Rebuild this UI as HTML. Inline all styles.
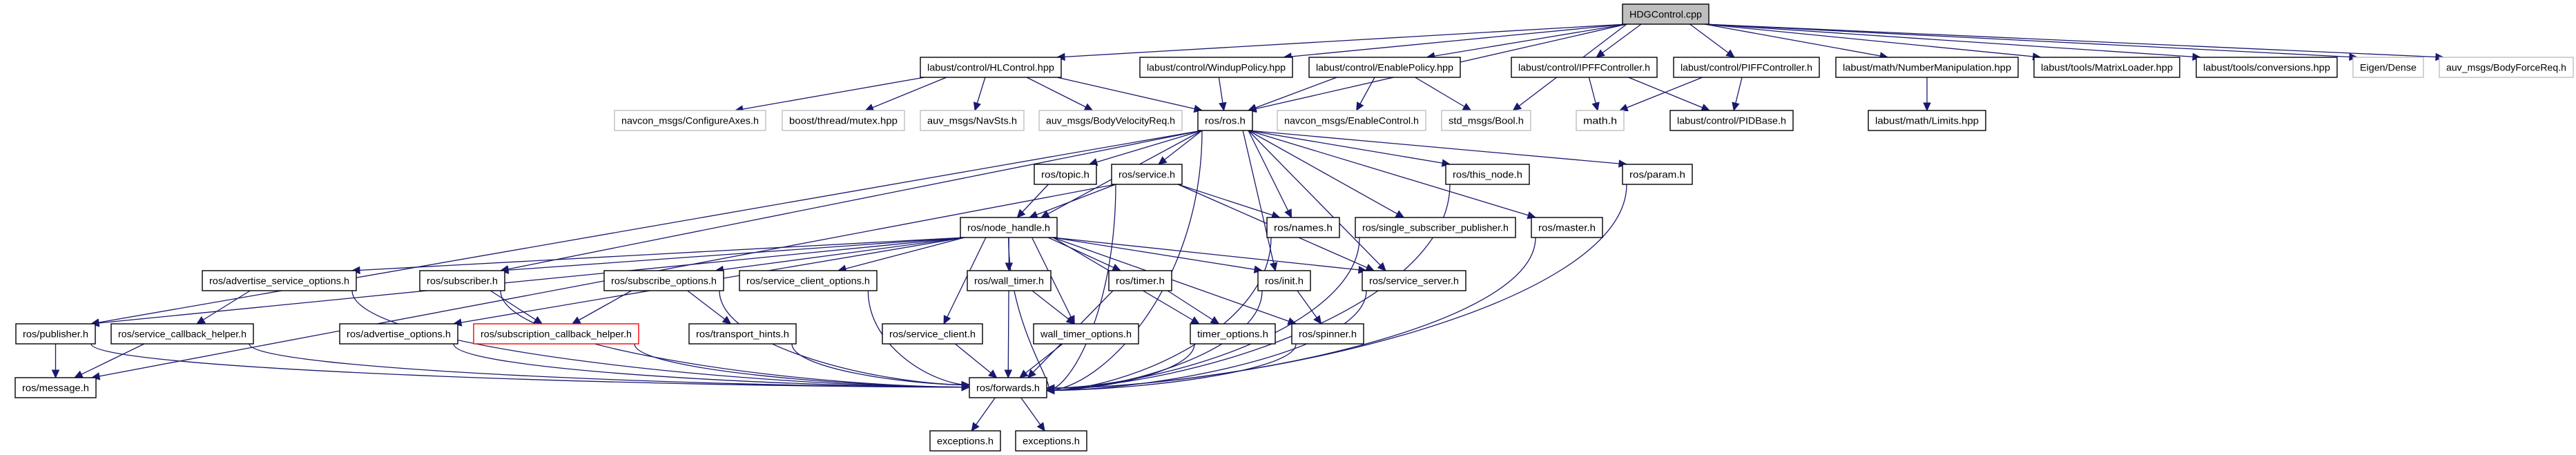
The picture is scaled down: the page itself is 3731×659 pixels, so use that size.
<!DOCTYPE html>
<html><head><meta charset="utf-8"><style>
html,body{margin:0;padding:0;background:#fff;}
svg{display:block}
text{font-family:"Liberation Sans",sans-serif;font-size:14px;fill:#000;}
</style></head><body>
<svg id="s" width="3731" height="659" viewBox="0 0 3731 659" xmlns="http://www.w3.org/2000/svg">
<g id="edges" fill="none" stroke="#191970" stroke-width="1.3"></g>
<g id="heads" fill="#191970" stroke="#191970"></g>
<g id="nodes"></g>
</svg>
<div style="display:none" id="labels">
<span data-n="hdg,2350,2475,6,k">HDGControl.cpp</span>
<span data-n="hl,1333,1537,83,b">labust/control/HLControl.hpp</span>
<span data-n="wp,1651,1872,83,b">labust/control/WindupPolicy.hpp</span>
<span data-n="ep,1896,2115,83,b">labust/control/EnablePolicy.hpp</span>
<span data-n="ipff,2189,2400,83,b">labust/control/IPFFController.h</span>
<span data-n="piff,2424,2635,83,b">labust/control/PIFFController.h</span>
<span data-n="num,2659,2923,83,b">labust/math/NumberManipulation.hpp</span>
<span data-n="ml,2946,3157,83,b">labust/tools/MatrixLoader.hpp</span>
<span data-n="conv,3181,3385,83,b">labust/tools/conversions.hpp</span>
<span data-n="eig,3408,3510,83,g">Eigen/Dense</span>
<span data-n="bfr,3533,3727,83,g">auv_msgs/BodyForceReq.h</span>
<span data-n="ca,890,1109,160,g">navcon_msgs/ConfigureAxes.h</span>
<span data-n="mtx,1133,1310,160,g">boost/thread/mutex.hpp</span>
<span data-n="nav,1333,1483,160,g">auv_msgs/NavSts.h</span>
<span data-n="bvr,1505,1712,160,g">auv_msgs/BodyVelocityReq.h</span>
<span data-n="ros,1735,1814,160,b">ros/ros.h</span>
<span data-n="ec,1850,2065,160,g">navcon_msgs/EnableControl.h</span>
<span data-n="bool,2088,2217,160,g">std_msgs/Bool.h</span>
<span data-n="math,2283,2352,160,g">math.h</span>
<span data-n="pid,2419,2597,160,b">labust/control/PIDBase.h</span>
<span data-n="lim,2706,2876,160,b">labust/math/Limits.hpp</span>
<span data-n="topic,1498,1588,238,b">ros/topic.h</span>
<span data-n="svc,1610,1712,238,b">ros/service.h</span>
<span data-n="thisn,2094,2215,238,b">ros/this_node.h</span>
<span data-n="param,2350,2451,238,b">ros/param.h</span>
<span data-n="nh,1391,1531,315,b">ros/node_handle.h</span>
<span data-n="names,1835,1940,315,b">ros/names.h</span>
<span data-n="ssp,1963,2195,315,b">ros/single_subscriber_publisher.h</span>
<span data-n="master,2218,2321,315,b">ros/master.h</span>
<span data-n="aso,293,516,392,b">ros/advertise_service_options.h</span>
<span data-n="sub,608,731,392,b">ros/subscriber.h</span>
<span data-n="so,875,1048,392,b">ros/subscribe_options.h</span>
<span data-n="sco,1071,1270,392,b">ros/service_client_options.h</span>
<span data-n="wt,1401,1522,392,b">ros/wall_timer.h</span>
<span data-n="tm,1606,1697,392,b">ros/timer.h</span>
<span data-n="init,1822,1898,392,b">ros/init.h</span>
<span data-n="ss,1973,2123,392,b">ros/service_server.h</span>
<span data-n="pub,23,138,469,b">ros/publisher.h</span>
<span data-n="sch,161,367,469,b">ros/service_callback_helper.h</span>
<span data-n="ao,492,663,469,b">ros/advertise_options.h</span>
<span data-n="subch,686,925,469,r">ros/subscription_callback_helper.h</span>
<span data-n="th,998,1153,469,b">ros/transport_hints.h</span>
<span data-n="sc,1278,1423,469,b">ros/service_client.h</span>
<span data-n="wto,1497,1649,469,b">wall_timer_options.h</span>
<span data-n="to,1724,1847,469,b">timer_options.h</span>
<span data-n="spin,1871,1975,469,b">ros/spinner.h</span>
<span data-n="msg,22,139,547,b">ros/message.h</span>
<span data-n="fwd,1404,1516,547,b">ros/forwards.h</span>
<span data-n="ex1,1347,1449,624,b">exceptions.h</span>
<span data-n="ex2,1471,1574,624,b">exceptions.h</span>
</div>
<script>
var NS="http://www.w3.org/2000/svg",N={},H=29;
var ng=document.getElementById('nodes');
document.querySelectorAll('#labels span').forEach(function(sp){
 var a=sp.getAttribute('data-n').split(','),x1=+a[1],x2=+a[2],y=+a[3],st=a[4];
 N[a[0]]={x1:x1,x2:x2,y1:y,y2:y+H,cx:(x1+x2)/2,cy:y+H/2};
 var r=document.createElementNS(NS,'rect');
 r.setAttribute('x',x1);r.setAttribute('y',y);r.setAttribute('width',x2-x1);r.setAttribute('height',H);
 r.setAttribute('fill',st=='k'?'#bfbfbf':'#fff');
 r.setAttribute('stroke',st=='g'?'#bfbfbf':(st=='r'?'#ff0000':'#000'));
 r.setAttribute('stroke-width','1.4');ng.appendChild(r);
 var t=document.createElementNS(NS,'text');
 t.setAttribute('x',(x1+x2)/2);t.setAttribute('y',y+19.5);t.setAttribute('text-anchor','middle');
 t.setAttribute('textLength',Math.max(10,x2-x1-20));t.setAttribute('lengthAdjust','spacingAndGlyphs');
 t.textContent=sp.textContent;ng.appendChild(t);
});
var E="hdg>hl hdg>wp hdg>ep hdg>ipff hdg>piff hdg>num hdg>ml hdg>conv hdg>eig hdg>bfr hdg>ros hdg>bool "+
"hl>ca hl>mtx hl>nav hl>bvr hl>ros wp>ros ep>ros ep>ec ep>bool ipff>math ipff>pid piff>math piff>pid num>lim "+
"ros>topic ros>svc ros>nh ros>names ros>thisn ros>param ros>ssp ros>master ros>init ros>ss ros>fwd ros>pub ros>sub "+
"topic>nh svc>nh svc>names svc>ss svc>fwd svc>msg "+
"nh>aso nh>sub nh>so nh>sco nh>sc nh>wt nh>wto nh>tm nh>to nh>init nh>ss nh>spin nh>fwd nh>pub nh>ao "+
"aso>sch aso>fwd sub>subch sub>fwd so>subch so>th so>fwd pub>msg pub>fwd sch>msg sch>fwd ao>fwd subch>fwd "+
"sco>fwd th>fwd sc>fwd wt>fwd wt>wto tm>fwd tm>to wto>fwd to>fwd init>spin init>fwd ss>fwd spin>fwd "+
"names>fwd ssp>fwd master>fwd thisn>fwd param>fwd fwd>ex1 fwd>ex2";
var eg=document.getElementById('edges'),hg=document.getElementById('heads');
function cl(v,a,b){return Math.max(a,Math.min(b,v));}
E.split(' ').forEach(function(e){
 var p=e.split('>'),s=N[p[0]],t=N[p[1]];
 var sx=cl(s.cx+(t.cx-s.cx)*0.3,s.x1+6,s.x2-6),sy=s.y2;
 var tx,ty,c1x,c1y,c2x,c2y,dir;
 var side=(p[1]=='fwd'&&t.y1-s.y2<200&&Math.abs(t.cx-s.cx)>250)||(p[1]=='fwd'&&t.y1-s.y2>=200);
 if(side){
  var left=s.cx<t.cx; tx=left?t.x1:t.x2; ty=t.cy+(left?-4:4)*(Math.abs(s.cx-t.cx)>600?0.2:1);
  c1x=sx;c1y=sy+(ty-sy)*0.6;c2x=tx+(left?-1:1)*Math.abs(tx-sx)*0.35;c2y=ty;
 } else {
  tx=cl(t.cx+(s.cx-t.cx)*0.15,t.x1+6,t.x2-6);ty=t.y1;
  var dy=ty-sy;c1x=sx+(tx-sx)*0.3;c1y=sy+dy*0.3;c2x=tx-(tx-sx)*0.3;c2y=ty-dy*0.3;
 }
 var pa=document.createElementNS(NS,'path');
 pa.setAttribute('d','M'+sx+','+sy+' C'+c1x+','+c1y+' '+c2x+','+c2y+' '+tx+','+ty);
 eg.appendChild(pa);
 var ang=Math.atan2(ty-c2y,tx-c2x),L=11,W=5;
 var bx=tx-L*Math.cos(ang),by=ty-L*Math.sin(ang);
 var px=-Math.sin(ang)*W,py=Math.cos(ang)*W;
 var h=document.createElementNS(NS,'polygon');
 h.setAttribute('points',tx+','+ty+' '+(bx+px)+','+(by+py)+' '+(bx-px)+','+(by-py));
 hg.appendChild(h);
});
</script>
</body></html>
